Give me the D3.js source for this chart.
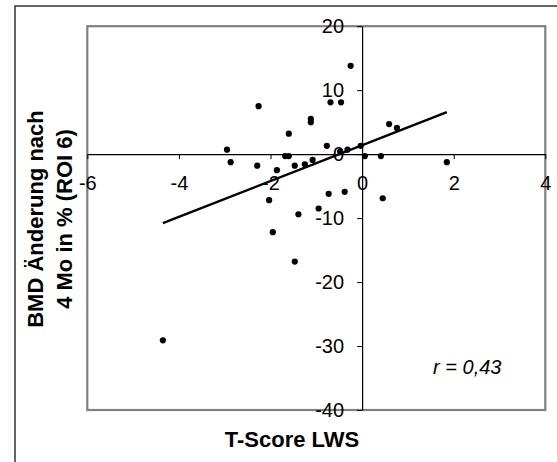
<!DOCTYPE html>
<html lang="de">
<head>
  <meta charset="UTF-8" />
  <title>BMD Änderung vs. T-Score LWS</title>
  <style>
    body {
      margin: 0;
      background: #fff;
      font-family: "Liberation Sans", Arial, sans-serif;
    }
    svg { display: block; }
    .tick text {
      font-size: 20px;
      fill: #000;
    }
    .axis-title {
      font-size: 22px;
      font-weight: bold;
      fill: #000;
    }
  </style>
</head>
<body>
  <svg width="557" height="462"></svg>

  <script src="https://cdnjs.cloudflare.com/ajax/libs/d3/7.8.5/d3.min.js"></script>
  <script>
    // values
    const tScore = [
      -2.26, -2.95, -2.87, -2.29, -1.86, -2.03, -1.95, -1.47, -1.39, -0.95,
      -0.73, -0.38, 0.45, 1.85, 0.06, 0.41, -0.03, -0.32, -0.48, -0.77,
      -1.08, -1.25, -1.47, -1.68, -1.60, -1.60, -1.12, -1.12, -0.69, -0.46,
      -0.25, 0.59, 0.76, -4.35
    ];
    const bmdChange = [
      7.5, 0.7, -1.25, -1.8, -2.5, -7.2, -12.2, -16.8, -9.4, -8.5,
      -6.2, -5.9, -6.9, -1.25, -0.3, -0.3, 1.3, 0.7, 0.4, 1.3,
      -0.9, -1.6, -1.8, -0.3, -0.3, 3.2, 5.5, 5.0, 8.1, 8.1,
      13.8, 4.7, 4.1, -29.1
    ];
    const xTicks = [-6, -4, -2, 0, 2, 4];
    const yTicks = [-40, -30, -20, -10, 0, 10, 20];
    // linear trend line (Excel)
    const trendSlope = 2.80;
    const trendIntercept = 1.39;
    const rLabel = "r = 0,43";

    const svg = d3.select("svg");

    // outer chart frame
    svg.append("rect")
      .attr("x", 15).attr("y", 6)
      .attr("width", 600).attr("height", 500)
      .attr("fill", "none")
      .attr("stroke", "#000")
      .attr("stroke-width", 1.2);

    const plot = { left: 87.3, right: 545.3, top: 26.2, bottom: 410 };

    const x = d3.scaleLinear().domain([-6, 4]).range([plot.left, plot.right]);
    const y = d3.scaleLinear().domain([-40, 20]).range([plot.bottom, plot.top]);

    // plot area border
    svg.append("rect")
      .attr("x", plot.left).attr("y", plot.top)
      .attr("width", plot.right - plot.left).attr("height", plot.bottom - plot.top)
      .attr("fill", "#fff")
      .attr("stroke", "#808080")
      .attr("stroke-width", 2.2);

    // plain hyphen minus like Excel
    const fmt = d => String(d);

    // axes crossing at 0
    const xAxis = svg.append("g")
      .attr("transform", `translate(0,${y(0)})`)
      .call(d3.axisBottom(x).tickValues(xTicks).tickFormat(fmt)
        .tickSize(5).tickSizeOuter(0).tickPadding(17));

    const yAxis = svg.append("g")
      .attr("transform", `translate(${x(0)},0)`)
      .call(d3.axisLeft(y).tickValues(yTicks).tickFormat(fmt)
        .tickSize(5).tickSizeOuter(0).tickPadding(13));

    [xAxis, yAxis].forEach(a => {
      a.attr("font-family", null).attr("font-size", null);
      a.select(".domain").attr("stroke", "#000").attr("stroke-width", 1.2);
      a.selectAll(".tick line").attr("stroke", "#000");
    });

    // trend line over the data range
    const xExt = d3.extent(tScore);
    svg.append("line")
      .attr("x1", x(xExt[0])).attr("y1", y(trendSlope * xExt[0] + trendIntercept))
      .attr("x2", x(xExt[1])).attr("y2", y(trendSlope * xExt[1] + trendIntercept))
      .attr("stroke", "#000")
      .attr("stroke-width", 2.5);

    // points
    svg.append("g")
      .selectAll("circle")
      .data(tScore)
      .join("circle")
      .attr("cx", d => x(d))
      .attr("cy", (d, i) => y(bmdChange[i]))
      .attr("r", 3.1)
      .attr("fill", "#000");

    // correlation label
    svg.append("text")
      .attr("x", x(1.55))
      .attr("y", y(-34.4))
      .attr("font-size", 20)
      .attr("font-style", "italic")
      .text(rLabel);

    // axis titles
    svg.append("text")
      .attr("class", "axis-title")
      .attr("x", 292)
      .attr("y", 446.5)
      .attr("text-anchor", "middle")
      .text("T-Score LWS");

    const yTitle = svg.append("text")
      .attr("class", "axis-title")
      .attr("transform", "translate(43,219) rotate(-90)")
      .attr("text-anchor", "middle");
    yTitle.append("tspan").attr("x", 0).attr("y", 0).text("BMD Änderung nach");
    yTitle.append("tspan").attr("x", 0).attr("y", 29).text("4 Mo in % (ROI 6)");
  </script>
</body>
</html>
